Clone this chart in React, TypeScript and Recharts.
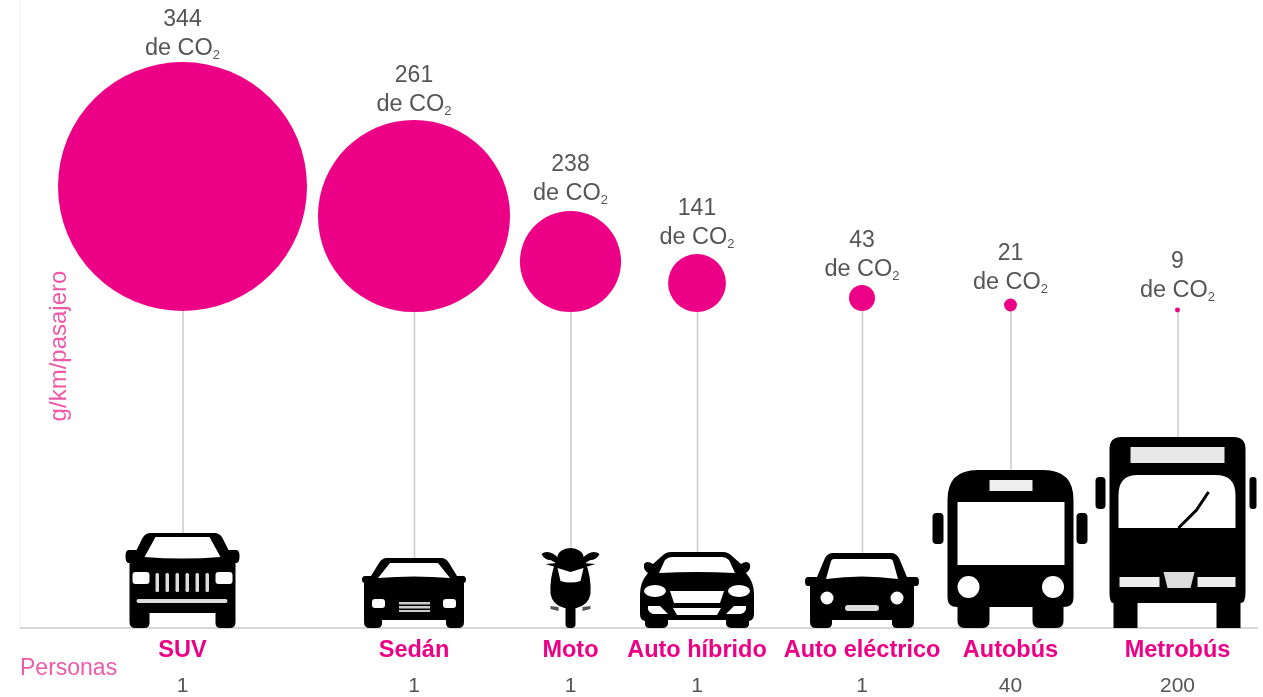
import { Bar, ComposedChart, Scatter, XAxis, YAxis, ZAxis } from "recharts";

const vehicles = ["SUV", "Sedán", "Moto", "Auto híbrido", "Auto eléctrico", "Autobús", "Metrobús"];
const co2Values = [344, 261, 238, 141, 43, 21, 9];
const personas = [1, 1, 1, 1, 1, 40, 200];
// in the chart's own axis units
const xSlots = [182.5, 414, 570.5, 697, 862, 1010.5, 1177.5];
const bubbleHeights = [441.5, 412, 366.5, 345, 330, 323, 318];
const bubbleAreas = [100, 59.5, 16.5, 5.4, 1.09, 0.27, 0.04];
const iconHeights = [95, 70, 80, 76, 75, 158, 191];
const labelLifts = [0, 2, 4, 3, 2, 3, 4];

const PINK = "#ec0085";
const LIGHT_PINK = "#ee5aa8";
const GREY = "#555555";
const FONT = "'Liberation Sans', Arial, sans-serif";

const data = vehicles.map((name, i) => ({
  name,
  slot: xSlots[i],
  co2: co2Values[i],
  persons: personas[i],
  height: bubbleHeights[i],
  area: bubbleAreas[i],
  lift: labelLifts[i],
  stem: [iconHeights[i], bubbleHeights[i]],
}));

function carPath(roofW: number, top: number, mirrorW: number, mirrorTop: number, mirrorBottom: number, bodyW: number, archX: number, archY: number) {
  const mid = (mirrorTop + mirrorBottom) / 2;
  return `M${-roofW},${top} H${roofW} Q${roofW + 5},${top} ${roofW + 8},${top + 5} L${bodyW - 7},${mirrorTop} H${mirrorW - 3} Q${mirrorW},${mirrorTop} ${mirrorW},${mid} Q${mirrorW},${mirrorBottom} ${mirrorW - 3},${mirrorBottom} H${bodyW} V-6 Q${bodyW},0 ${bodyW - 6},0 H${archX + 5} Q${archX},0 ${archX},-5 V${archY} H${-archX} V-5 Q${-archX},0 ${-archX - 5},0 H${-bodyW + 6} Q${-bodyW},0 ${-bodyW},-6 V${mirrorBottom} H${-mirrorW + 3} Q${-mirrorW},${mirrorBottom} ${-mirrorW},${mid} Q${-mirrorW},${mirrorTop} ${-mirrorW + 3},${mirrorTop} H${-bodyW + 7} L${-roofW - 8},${top + 5} Q${-roofW - 5},${top} ${-roofW},${top} Z`;
}

function SuvIcon() {
  return (
    <g>
      <path d={carPath(32, -95, 57, -78, -65, 53, 33, -15)} fill="#000" />
      <path d="M-27,-91 H27 L38,-71 Q0,-68 -38,-71 Z" fill="#fff" />
      <rect x={-50} y={-56} width={17} height={12} rx={3} fill="#fff" />
      <rect x={33} y={-56} width={17} height={12} rx={3} fill="#fff" />
      {[-27, -17, -7, 3, 13, 23].map((bx) => (
        <rect key={bx} x={bx} y={-55} width={3.5} height={19} rx={1.5} fill="#ddd" />
      ))}
      <rect x={-46} y={-29} width={91} height={4} rx={2} fill="#ddd" />
    </g>
  );
}

function SedanIcon() {
  return (
    <g>
      <path d={carPath(27, -70, 52, -52, -45, 50, 32, -8)} fill="#000" />
      <path d="M-24,-65 H24 L36,-50 Q0,-53 -36,-50 Z" fill="#fff" />
      <rect x={-42} y={-29} width={13} height={9} rx={3} fill="#fff" />
      <rect x={29} y={-29} width={13} height={9} rx={3} fill="#fff" />
      <rect x={-15} y={-26} width={31} height={2.5} fill="#ccc" />
      <rect x={-15} y={-22} width={31} height={2.5} fill="#ccc" />
      <rect x={-15} y={-18} width={31} height={2} fill="#ccc" />
    </g>
  );
}

function MotoIcon() {
  return (
    <g>
      <rect x={-5} y={-30} width={10} height={30} rx={4} fill="#000" />
      <path d="M-15,-66 H15 Q21,-50 20,-34 Q18,-23 6,-20 H-6 Q-18,-23 -20,-34 Q-21,-50 -15,-66 Z" fill="#000" />
      <ellipse cx={0} cy={-71} rx={13} ry={9} fill="#000" />
      <path d="M-29,-74 Q-24,-78 -17,-74 L-9,-68 L-11,-63 L-20,-68 Q-26,-68 -29,-74 Z" fill="#000" />
      <path d="M29,-74 Q24,-78 17,-74 L9,-68 L11,-63 L20,-68 Q26,-68 29,-74 Z" fill="#000" />
      <path d="M-25,-64 L-12,-65 V-60 Z M25,-64 L12,-65 V-60 Z" fill="#000" />
      <path d="M-13,-60 L0,-56 L13,-60 L10,-47 Q0,-44 -10,-47 Z" fill="#fff" />
      <path d="M-20,-22 L-12,-21 V-17 L-20,-19 Z M20,-22 L12,-21 V-17 L20,-19 Z" fill="#555" />
    </g>
  );
}

function HybridIcon() {
  return (
    <g>
      <path
        d="M-26,-76 H26 Q31,-76 35,-72 L44,-64 Q50,-68 53,-64 Q54,-58 49,-55 Q57,-46 57,-34 V-14 Q57,-8 52,-7 V-4 Q52,0 47,0 H35 Q30,0 29,-4 V-8 H-29 V-4 Q-30,0 -35,0 H-47 Q-52,0 -52,-4 V-7 Q-57,-8 -57,-14 V-34 Q-57,-46 -49,-55 Q-54,-58 -53,-64 Q-50,-68 -44,-64 L-35,-72 Q-31,-76 -26,-76 Z"
        fill="#000"
      />
      <path d="M-25,-71 H25 Q29,-71 32,-68 L38,-55 Q0,-57 -38,-55 L-32,-68 Q-29,-71 -25,-71 Z" fill="#fff" />
      <ellipse cx={-42} cy={-37} rx={11} ry={6} fill="#fff" />
      <ellipse cx={42} cy={-37} rx={11} ry={6} fill="#fff" />
      <path d="M-49,-22 H-37 L-29,-14 H-44 Q-50,-16 -49,-22 Z" fill="#fff" />
      <path d="M49,-22 H37 L29,-14 H44 Q50,-16 49,-22 Z" fill="#fff" />
      <path d="M-27,-37 H27 L23,-25 H-23 Z" fill="#fff" />
      <path d="M-24,-20 H24 L20,-13 H-20 Z" fill="#fff" />
    </g>
  );
}

function ElectricIcon() {
  return (
    <g>
      <path d={carPath(29, -75, 57, -51, -42, 52, 30, -8)} fill="#000" />
      <path d="M-28,-69 H28 Q30,-69 31,-67 L36,-49 Q0,-54 -36,-49 L-31,-67 Q-30,-69 -28,-69 Z" fill="#fff" />
      <circle cx={-35} cy={-30} r={6.5} fill="#fff" />
      <circle cx={35} cy={-30} r={6.5} fill="#fff" />
      <rect x={-17} y={-23} width={34} height={6} rx={3} fill="#ddd" />
    </g>
  );
}

function BusIcon() {
  return (
    <g fill="#000">
      <rect x={-78} y={-115} width={11} height={31} rx={4} />
      <rect x={66} y={-115} width={11} height={31} rx={4} />
      <path d="M-33,-158 H33 Q63,-158 63,-128 V-30 Q63,-21 53,-21 V-7 Q53,0 46,0 H29 Q22,0 22,-7 V-21 H-21 V-7 Q-21,0 -28,0 H-46 Q-53,0 -53,-7 V-21 Q-63,-21 -63,-30 V-128 Q-63,-158 -33,-158 Z" />
      <rect x={-53} y={-126} width={107} height={63} fill="#fff" />
      <rect x={-21} y={-148} width={43} height={11} fill="#eee" />
      <circle cx={-42} cy={-41} r={11} fill="#fff" />
      <circle cx={42.5} cy={-41} r={11} fill="#fff" />
    </g>
  );
}

function MetroIcon() {
  return (
    <g fill="#000">
      <rect x={-82} y={-151} width={10} height={32} rx={4} />
      <rect x={72} y={-151} width={7} height={32} rx={3} />
      <path d="M-56,-191 H56 Q68,-191 68,-179 V-35 Q68,-25 63,-25 V0 H39 V-25 H-40 V0 H-64 V-25 Q-68,-25 -68,-35 V-179 Q-68,-191 -56,-191 Z" />
      <rect x={-47} y={-181} width={94} height={16} fill="#e8e8e8" />
      <path d="M-40,-153 H38 Q58,-153 58,-133 V-100 H-59 V-133 Q-59,-153 -40,-153 Z" fill="#fff" />
      <path d="M1,-100 L19,-118 L31,-136" fill="none" stroke="#000" strokeWidth={3} />
      <rect x={-58} y={-51} width={40} height={10} fill="#eee" />
      <rect x={20} y={-51} width={38} height={10} fill="#eee" />
      <path d="M-14,-56 H17 L13,-40 H-10 Z" fill="#ddd" />
    </g>
  );
}

const icons = [SuvIcon, SedanIcon, MotoIcon, HybridIcon, ElectricIcon, BusIcon, MetroIcon];

function VehicleTick({ x, y, index }: any) {
  const Icon = icons[index];
  return (
    <g transform={`translate(${x},${y})`} fontFamily={FONT} textAnchor="middle">
      <Icon />
      <text y={29} fontSize={23.5} fontWeight="bold" fill={PINK}>
        {vehicles[index]}
      </text>
      <text y={64} fontSize={21} fill={GREY}>
        {personas[index]}
      </text>
    </g>
  );
}

function Bubble({ cx, cy, width, payload }: any) {
  const r = width / 2;
  const top = cy - r - payload.lift;
  return (
    <g fontFamily={FONT} textAnchor="middle" fill={GREY}>
      <circle cx={cx} cy={cy} r={r} fill={PINK} />
      <text x={cx} y={top - 36} fontSize={23}>
        {payload.co2}
      </text>
      <text x={cx} y={top - 7} fontSize={23.5}>
        de CO
        <tspan fontSize={13} dy={4}>
          2
        </tspan>
      </text>
    </g>
  );
}

export default function App() {
  return (
    <div style={{ position: "absolute", left: 0, top: 0, width: 1263, height: 697, background: "#fff", filter: "blur(0.7px)" }}>
      <ComposedChart width={1263} height={697} data={data} margin={{ top: 0, right: 5, bottom: 0, left: 0 }}>
        <XAxis
          dataKey="slot"
          type="number"
          domain={[20, 1258]}
          ticks={xSlots}
          interval={0}
          height={69}
          tickSize={0}
          tickMargin={0}
          tickLine={false}
          axisLine={{ stroke: "#d6d6d6", strokeWidth: 2 }}
          tick={<VehicleTick />}
        />
        <YAxis width={20} domain={[0, 628]} tick={false} tickLine={false} axisLine={{ stroke: "#f0f0f0" }} />
        <ZAxis dataKey="area" type="number" domain={[0, 100]} range={[0, 48695]} />
        <Bar dataKey="stem" barSize={1.5} fill="#cccccc" isAnimationActive={false} />
        <Scatter dataKey="height" isAnimationActive={false} shape={<Bubble />} />
        <text x={20} y={675} fontFamily={FONT} fontSize={23} fill={LIGHT_PINK}>
          Personas
        </text>
        <text
          transform="translate(66,346) rotate(-90)"
          textAnchor="middle"
          fontFamily={FONT}
          fontSize={24}
          fill={LIGHT_PINK}
        >
          g/km/pasajero
        </text>
      </ComposedChart>
    </div>
  );
}
